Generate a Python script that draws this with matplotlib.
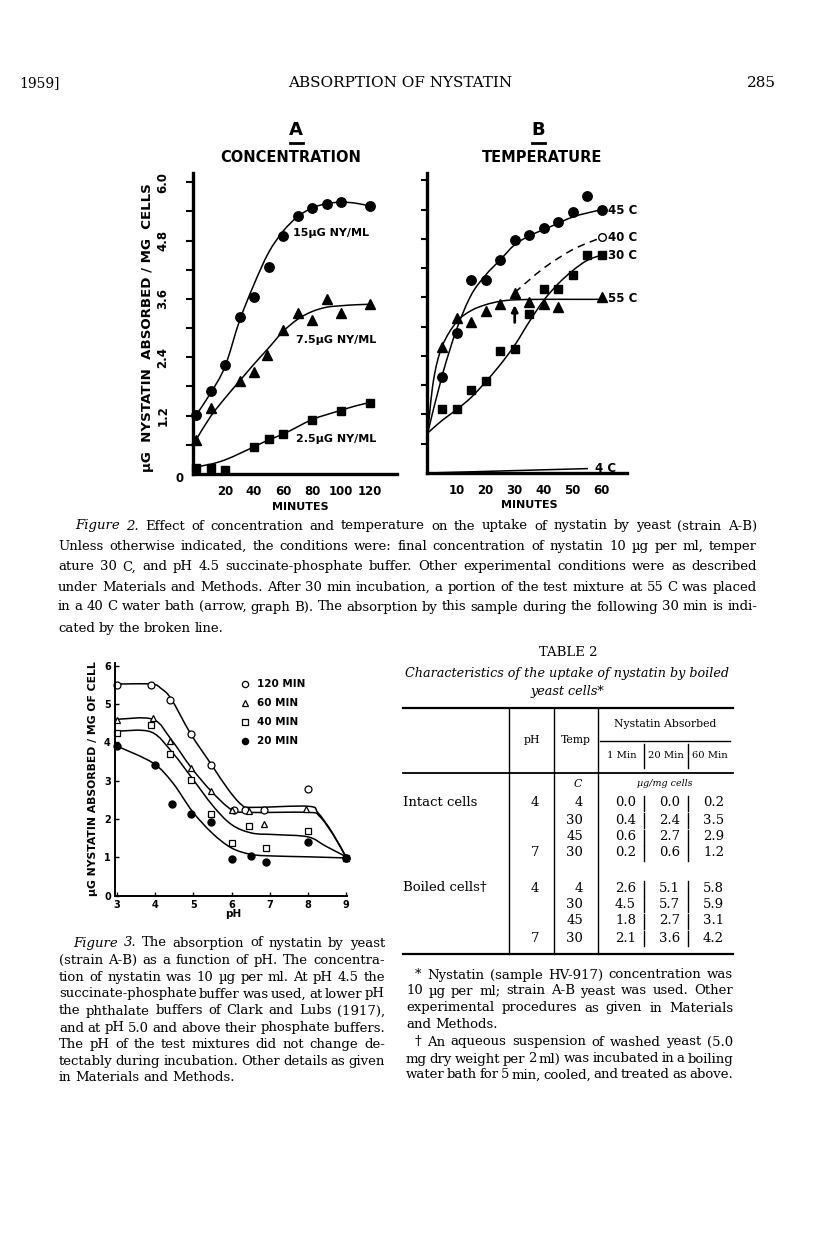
import numpy as np
import matplotlib
matplotlib.use('Agg')
import matplotlib.pyplot as plt
from matplotlib.path import Path
from matplotlib.patches import PathPatch
from matplotlib.lines import Line2D

# ---- Figure 2A: concentration (minutes, ug/mg cells) ----
a_t15 = [0, 10, 20, 30, 40, 50, 60, 70, 80, 90, 100, 120]
a_v15 = [1.21, 1.71, 2.24, 3.22, 3.63, 4.25, 4.90, 5.31, 5.47, 5.56, 5.59, 5.51]
a_t75 = [0, 10, 30, 40, 49, 60, 70, 80, 90, 100, 120]
a_v75 = [0.70, 1.35, 1.91, 2.09, 2.45, 2.96, 3.32, 3.16, 3.59, 3.32, 3.49]
a_t25 = [0, 10, 20, 40, 50, 60, 80, 100, 120]
a_v25 = [0.13, 0.13, 0.08, 0.56, 0.72, 0.82, 1.12, 1.30, 1.47]
# hand-drawn fitted curves (knots)
a_ct = [0, 10, 20, 30, 40, 50, 60, 70, 80, 90, 100, 110, 120]
a_c15 = [1.21, 1.66, 2.21, 3.15, 3.90, 4.55, 4.99, 5.29, 5.47, 5.56, 5.59, 5.57, 5.51]
a_c75 = [0.70, 1.18, 1.56, 1.91, 2.26, 2.59, 2.93, 3.18, 3.34, 3.43, 3.46, 3.48, 3.49]
a_c25 = [0.15, 0.20, 0.29, 0.42, 0.56, 0.70, 0.82, 0.97, 1.12, 1.22, 1.31, 1.40, 1.47]

# ---- Figure 2B: temperature ----
b_t = [5, 10, 15, 20, 25, 30, 35, 40, 45, 50, 55, 60]
b_v45 = [1.97, 2.86, 3.95, 3.96, 4.36, 4.77, 4.88, 5.02, 5.14, 5.36, 5.67, 5.40]
b_v30 = [1.32, 1.32, 1.70, 1.89, 2.51, 2.55, 3.26, 3.77, 3.77, 4.06, 4.47, 4.47]
b_t55 = [5, 10, 15, 20, 25, 30, 35, 40, 45, 60]
b_v55 = [2.58, 3.17, 3.10, 3.33, 3.47, 3.70, 3.51, 3.47, 3.41, 3.60]
b_ct = [0, 5, 10, 15, 20, 25, 30, 35, 40, 45, 50, 55, 60]
b_c45 = [0.82, 2.00, 2.95, 3.65, 4.06, 4.37, 4.68, 4.86, 4.99, 5.12, 5.25, 5.33, 5.40]
b_c30 = [0.82, 1.08, 1.30, 1.55, 1.87, 2.22, 2.62, 3.10, 3.54, 3.88, 4.15, 4.36, 4.47]
b_ct55 = [0, 2, 5, 10, 15, 20, 25, 30, 40, 50, 60]
b_c55 = [0.82, 1.90, 2.60, 3.10, 3.33, 3.45, 3.52, 3.55, 3.56, 3.56, 3.56]
b_t40 = [30, 40, 50, 60]
b_v40 = [3.70, 4.20, 4.58, 4.83]
b_t4 = [0, 55]
b_v4 = [0.0, 0.09]

# ---- Figure 3: pH ----
ph120 = [3.0, 3.9, 4.4, 4.95, 5.45, 6.05, 6.35, 6.85, 8.0, 9.0]
v120 = [5.50, 5.50, 5.11, 4.22, 3.42, 2.24, 2.22, 2.24, 2.77, 0.98]
ph60 = [3.0, 3.95, 4.4, 4.95, 5.45, 6.0, 6.45, 6.85, 7.95, 9.0]
v60 = [4.57, 4.63, 4.04, 3.33, 2.72, 2.23, 2.20, 1.87, 2.26, 0.98]
ph40 = [3.0, 3.9, 4.4, 4.95, 5.45, 6.0, 6.45, 6.9, 8.0, 9.0]
v40 = [4.24, 4.46, 3.70, 3.01, 2.13, 1.36, 1.81, 1.24, 1.68, 0.98]
ph20 = [3.0, 4.0, 4.45, 4.95, 5.45, 6.0, 6.5, 6.9, 8.0, 9.0]
v20 = [3.90, 3.40, 2.40, 2.14, 1.91, 0.96, 1.03, 0.87, 1.39, 0.98]
c120_ph = [3.0, 3.9, 4.16, 4.42, 4.93, 5.47, 5.91, 6.26, 6.53, 8.0, 8.26, 8.63, 9.0]
c120_v = [5.52, 5.52, 5.40, 5.13, 4.22, 3.42, 2.77, 2.37, 2.30, 2.33, 2.16, 1.65, 1.0]
c60_ph = [3.0, 3.94, 4.42, 4.95, 5.47, 6.0, 6.44, 8.0, 8.3, 8.68, 9.0]
c60_v = [4.60, 4.60, 4.07, 3.33, 2.72, 2.24, 2.17, 2.17, 2.07, 1.55, 0.98]
c40_ph = [3.0, 3.89, 4.46, 4.99, 5.52, 6.0, 6.53, 7.14, 8.0, 8.46, 9.0]
c40_v = [4.29, 4.27, 3.72, 3.03, 2.33, 1.85, 1.63, 1.59, 1.53, 1.29, 1.01]
c20_ph = [3.0, 3.94, 4.46, 4.97, 5.49, 6.0, 6.53, 7.14, 8.0, 9.0]
c20_v = [3.90, 3.46, 2.94, 2.20, 1.63, 1.24, 1.07, 1.03, 1.01, 0.98]

# ---- Table 2 ----
tbl_temp = ['4', '30', '45', '30', '4', '30', '45', '30']
tbl_ph = ['4', '', '', '7', '4', '', '', '7']
tbl_1min = ['0.0', '0.4', '0.6', '0.2', '2.6', '4.5', '1.8', '2.1']
tbl_20min = ['0.0', '2.4', '2.7', '0.6', '5.1', '5.7', '2.7', '3.6']
tbl_60min = ['0.2', '3.5', '2.9', '1.2', '5.8', '5.9', '3.1', '4.2']

fig2_caption = [
    "~Figure ~2. Effect of concentration and temperature on the uptake of nystatin by yeast (strain A-B)",
    "Unless otherwise indicated, the conditions were: final concentration of nystatin 10 µg per ml, temper",
    "ature 30 C, and pH 4.5 succinate-phosphate buffer. Other experimental conditions were as described",
    "under Materials and Methods. After 30 min incubation, a portion of the test mixture at 55 C was placed",
    "in a 40 C water bath (arrow, graph B). The absorption by this sample during the following 30 min is indi-",
    "cated by the broken line.",
]
fig3_caption = [
    "~Figure ~3. The absorption of nystatin by yeast",
    "(strain A-B) as a function of pH. The concentra-",
    "tion of nystatin was 10 µg per ml. At pH 4.5 the",
    "succinate-phosphate buffer was used, at lower pH",
    "the phthalate buffers of Clark and Lubs (1917),",
    "and at pH 5.0 and above their phosphate buffers.",
    "The pH of the test mixtures did not change de-",
    "tectably during incubation. Other details as given",
    "in Materials and Methods.",
]
footnotes = [
    "* Nystatin (sample HV-917) concentration was",
    "10 µg per ml; strain A-B yeast was used. Other",
    "experimental procedures as given in Materials",
    "and Methods.",
    "† An aqueous suspension of washed yeast (5.0",
    "mg dry weight per 2 ml) was incubated in a boiling",
    "water bath for 5 min, cooled, and treated as above.",
]

W, H = 816, 1249
SANS = 'DejaVu Sans'
SERIF = 'DejaVu Serif'
fig = plt.figure(figsize=(W / 100, H / 100), dpi=100)
fig.patch.set_facecolor('white')
renderer = fig.canvas.get_renderer()


def page_axes(l, t, r, b):
    ax = fig.add_axes([l / W, 1 - b / H, (r - l) / W, (b - t) / H])
    ax.set_facecolor('none')
    for s in ['top', 'right']:
        ax.spines[s].set_visible(False)
    return ax


def ptext(x, y, s, **kw):
    kw.setdefault('ha', 'center')
    kw.setdefault('va', 'center')
    return fig.text(x / W, 1 - y / H, s, **kw)


def pline(xs, ys, lw=1.0):
    fig.add_artist(Line2D([x / W for x in xs], [1 - y / H for y in ys], lw=lw, color='black'))


def para_line(x0, x1, y, s, size, justify=True):
    arts = []
    for w in s.split():
        style = 'normal'
        if w.startswith('~'):
            w, style = w[1:], 'italic'
        arts.append(fig.text(0, 0, w, fontsize=size, family=SERIF, style=style,
                             ha='left', va='center'))
    widths = [a.get_window_extent(renderer).width for a in arts]
    gap = size * 100 / 72 * 0.3
    if justify and len(arts) > 1:
        gap = (x1 - x0 - sum(widths)) / (len(arts) - 1)
    x = x0
    for a, w in zip(arts, widths):
        a.set_position((x / W, 1 - y / H))
        x += w + gap


def smooth(ax, xs, ys, **kw):
    # Catmull-Rom knots turned into cubic Bezier segments, drawn by matplotlib's Path
    p = np.column_stack([xs, ys]).astype(float)
    verts, codes = [p[0]], [Path.MOVETO]
    n = len(p)
    for i in range(n - 1):
        p0, p1, p2, p3 = p[max(i - 1, 0)], p[i], p[i + 1], p[min(i + 2, n - 1)]
        verts += [p1 + (p2 - p0) / 6, p2 - (p3 - p1) / 6, p2]
        codes += [Path.CURVE4] * 3
    ax.add_patch(PathPatch(Path(verts, codes), fill=False, color='black', **kw))


# ---------------- running head ----------------
ptext(40, 83, '1959]', family=SERIF, fontsize=10)
ptext(400, 83, 'ABSORPTION OF NYSTATIN', family=SERIF, fontsize=11)
ptext(761, 83, '285', family=SERIF, fontsize=11)

# ---------------- panel titles ----------------
ptext(296, 130, 'A', family=SANS, fontweight='bold', fontsize=13)
pline([290, 303], [143, 143], lw=2)
ptext(291, 157, 'CONCENTRATION', family=SANS, fontweight='bold', fontsize=10.5)
ptext(538, 130, 'B', family=SANS, fontweight='bold', fontsize=13)
pline([532, 545], [143, 143], lw=2)
ptext(542, 157, 'TEMPERATURE', family=SANS, fontweight='bold', fontsize=10.5)

# ---------------- panel A ----------------
axA = page_axes(193, 173, 397, 474)
axA.set_xlim(-2.07, 138.6)
axA.set_ylim(0, 6.19)
smooth(axA, a_ct, a_c15, lw=1.1)
smooth(axA, a_ct, a_c75, lw=1.1)
smooth(axA, a_ct, a_c25, lw=1.1)
axA.plot(a_t15, a_v15, 'o', color='black', ms=6.8, clip_on=False)
axA.plot(a_t75, a_v75, '^', color='black', ms=6.8, clip_on=False)
axA.plot(a_t25, a_v25, 's', color='black', ms=5.8, clip_on=False)
axA.text(67, 4.95, '15µG NY/ML', family=SANS, fontweight='bold', fontsize=8, va='center')
axA.text(68.8, 2.76, '7.5µG NY/ML', family=SANS, fontweight='bold', fontsize=8, va='center')
axA.text(68.8, 0.73, '2.5µG NY/ML', family=SANS, fontweight='bold', fontsize=8, va='center')
axA.set_xticks([20, 40, 60, 80, 100, 120])
axA.set_yticks([1.2, 2.4, 3.6, 4.8, 6.0])
axA.set_yticklabels(['1.2', '2.4', '3.6', '4.8', '6.0'], rotation=90, va='center')
axA.set_yticks(np.arange(0.6, 6.1, 1.2), minor=True)
axA.tick_params(axis='y', which='both', direction='out', length=5, width=1.5, pad=12)
axA.tick_params(axis='x', length=0, pad=8)
for lab in axA.get_xticklabels() + axA.get_yticklabels():
    lab.set_fontweight('bold')
    lab.set_fontsize(8.5)
    lab.set_family(SANS)
for s in ['left', 'bottom']:
    axA.spines[s].set_linewidth(2.4)
ptext(180, 478, '0', family=SANS, fontweight='bold', fontsize=8.5)
ptext(147, 328, 'µG  NYSTATIN  ABSORBED / MG  CELLS', family=SANS, fontweight='bold',
      fontsize=9.6, rotation=90)
ptext(300, 507, 'MINUTES', family=SANS, fontweight='bold', fontsize=8)

# ---------------- panel B ----------------
axB = page_axes(427, 173, 627, 473)
axB.set_xlim(-0.24, 68.7)
axB.set_ylim(0, 6.15)
smooth(axB, b_ct, b_c45, lw=1.1)
smooth(axB, b_ct, b_c30, lw=1.1)
smooth(axB, b_ct55, b_c55, lw=1.1)
smooth(axB, b_t40, b_v40, lw=1.1, linestyle=(0, (5, 3.5)))
axB.plot(b_t4, b_v4, color='black', lw=1.1)
axB.plot(b_t, b_v45, 'o', color='black', ms=6.8, clip_on=False)
axB.plot(b_t, b_v30, 's', color='black', ms=5.8, clip_on=False)
axB.plot(b_t55, b_v55, '^', color='black', ms=6.8, clip_on=False)
axB.plot(b_t40[-1:], b_v40[-1:], 'o', mfc='white', mec='black', mew=1, ms=5.5)
axB.annotate('', xy=(30, 3.5), xytext=(30, 3.03),
             arrowprops=dict(arrowstyle='-|>', color='black', lw=2, mutation_scale=9))
for lab, yv in [('45 C', 5.38), ('40 C', 4.83), ('30 C', 4.46), ('55 C', 3.58)]:
    axB.text(62.2, yv, lab, family=SANS, fontweight='bold', fontsize=8.5, va='center')
axB.text(57.5, 0.1, '4 C', family=SANS, fontweight='bold', fontsize=8.5, va='center')
axB.set_xticks([10, 20, 30, 40, 50, 60])
axB.set_yticks(np.arange(0.6, 6.1, 0.6))
axB.set_yticklabels([])
axB.tick_params(axis='y', direction='out', length=4, width=1.5)
axB.tick_params(axis='x', length=0, pad=8)
for lab in axB.get_xticklabels():
    lab.set_fontweight('bold')
    lab.set_fontsize(8.5)
    lab.set_family(SANS)
for s in ['left', 'bottom']:
    axB.spines[s].set_linewidth(2.4)
ptext(529, 505, 'MINUTES', family=SANS, fontweight='bold', fontsize=8)

# ---------------- figure 2 caption ----------------
cap_y = [526, 546, 567, 587, 607, 628]
for i, (line, y) in enumerate(zip(fig2_caption, cap_y)):
    x0 = 75 if i == 0 else 58
    para_line(x0, 757, y, line, 9.5, justify=(i < len(fig2_caption) - 1))

# ---------------- figure 3 ----------------
ax3 = page_axes(115, 663, 347, 895.5)
ax3.set_xlim(2.948, 9.02)
ax3.set_ylim(0, 6.07)
for cx, cy in [(c120_ph, c120_v), (c60_ph, c60_v), (c40_ph, c40_v), (c20_ph, c20_v)]:
    smooth(ax3, cx, cy, lw=1.1)
ax3.plot(ph120, v120, 'o', mfc='white', mec='black', mew=0.9, ms=5, clip_on=False)
ax3.plot(ph60, v60, '^', mfc='white', mec='black', mew=0.9, ms=4.5, clip_on=False)
ax3.plot(ph40, v40, 's', mfc='white', mec='black', mew=0.9, ms=4.5, clip_on=False)
ax3.plot(ph20, v20, 'o', color='black', ms=5, clip_on=False)
ax3.set_xticks([3, 4, 5, 6, 7, 8, 9])
ax3.set_yticks([0, 1, 2, 3, 4, 5, 6])
ax3.tick_params(direction='in', length=3, width=1, pad=3)
for lab in ax3.get_xticklabels() + ax3.get_yticklabels():
    lab.set_fontweight('bold')
    lab.set_fontsize(7)
    lab.set_family(SANS)
for s in ['left', 'bottom']:
    ax3.spines[s].set_linewidth(1.4)
leg = [('o', 'white', '120 MIN', 684), ('^', 'white', '60 MIN', 703),
       ('s', 'white', '40 MIN', 722), ('o', 'black', '20 MIN', 741)]
for mk, fc, lab, y in leg:
    fig.add_artist(Line2D([245 / W], [1 - y / H], marker=mk, mfc=fc, mec='black',
                          mew=0.9, ms=4.5, lw=0))
    ptext(257, y, lab, family=SANS, fontweight='bold', fontsize=7.5, ha='left')
ptext(93, 779, 'µG NYSTATIN ABSORBED / MG OF CELL', family=SANS, fontweight='bold',
      fontsize=7.8, rotation=90)
ptext(233, 914, 'pH', family=SANS, fontweight='bold', fontsize=7.5)

cap3_y = [943, 960.5, 977.5, 994, 1011, 1028, 1044.5, 1061.5, 1077.5]
for i, (line, y) in enumerate(zip(fig3_caption, cap3_y)):
    x0 = 73 if i == 0 else 59
    para_line(x0, 385, y, line, 9.5, justify=(i < len(fig3_caption) - 1))

# ---------------- table 2 ----------------
ptext(568, 652, 'TABLE 2', family=SERIF, fontsize=9.5)
ptext(567, 674, 'Characteristics of the uptake of nystatin by boiled', family=SERIF,
      style='italic', fontsize=9.2)
ptext(567, 692, 'yeast cells*', family=SERIF, style='italic', fontsize=9.2)
pline([403, 733], [708, 708], lw=1.6)
pline([403, 733], [773, 773], lw=1.3)
pline([403, 733], [954, 954], lw=1.6)
pline([600, 730], [741, 741], lw=1.0)
for x in [509, 554, 598]:
    pline([x, x], [708, 954], lw=1.0)
for x in [644, 688]:
    pline([x, x], [744, 768], lw=1.0)
ptext(532, 740, 'pH', family=SERIF, fontsize=7.8)
ptext(576, 740, 'Temp', family=SERIF, fontsize=7.8)
ptext(665, 724, 'Nystatin Absorbed', family=SERIF, fontsize=7.8)
for x, lab in [(622, '1 Min'), (666, '20 Min'), (710, '60 Min')]:
    ptext(x, 756, lab, family=SERIF, fontsize=7.2)
ptext(578, 784, 'C', family=SERIF, style='italic', fontsize=7.8)
ptext(665, 784, 'µg/mg cells', family=SERIF, style='italic', fontsize=6.8)
row_y = [803, 820, 837, 853, 888, 904, 921, 938]
ptext(403, 803, 'Intact cells', family=SERIF, fontsize=9.5, ha='left')
ptext(403, 888, 'Boiled cells†', family=SERIF, fontsize=9.5, ha='left')
for i, y in enumerate(row_y):
    ptext(535, y, tbl_ph[i], family=SERIF, fontsize=9.5)
    ptext(583, y, tbl_temp[i], family=SERIF, fontsize=9.5, ha='right')
    ptext(636, y, tbl_1min[i], family=SERIF, fontsize=9.5, ha='right')
    ptext(680, y, tbl_20min[i], family=SERIF, fontsize=9.5, ha='right')
    ptext(724, y, tbl_60min[i], family=SERIF, fontsize=9.5, ha='right')
    for x in [644, 688]:
        pline([x, x], [y - 7, y + 8], lw=1.0)

foot_y = [975, 991, 1008, 1025, 1042, 1059, 1075]
for i, (line, y) in enumerate(zip(footnotes, foot_y)):
    x0 = 415 if i in (0, 4) else 406
    para_line(x0, 733, y, line, 9.5, justify=(i != 3))

fig.savefig('out.png', dpi=100, facecolor='white')
